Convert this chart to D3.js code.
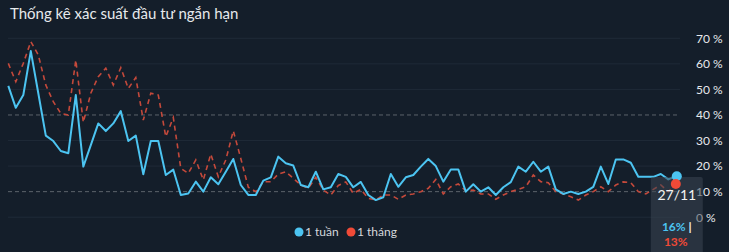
<!DOCTYPE html>
<html>
<head>
<meta charset="utf-8">
<script src="https://cdn.jsdelivr.net/npm/d3@7"></script>
<style>
  html, body { margin: 0; padding: 0; background: #141e2a; }
  svg { display: block; font-family: Lato, "Open Sans", sans-serif; }
</style>
</head>
<body>
<div id="chart"></div>
<script>
// Daily values, 90 days ending 27/11 (percent)
const weekValues = [51.4, 42.8, 47.8, 65, 48.5, 31.9, 29.8, 25.9, 25, 47.8,
    19.8, 28.2, 36.7, 33.7, 36.7, 41.5, 29.8, 31.9, 16.8, 29.8,
    29.8, 16.5, 18.6, 8.7, 9.3, 13.9, 10, 15.6, 12.9, 17.8,
    22.8, 12.6, 8.7, 8.7, 14.3, 15.6, 23.7, 21.1, 20.2, 12.6,
    11.7, 17.8, 10.9, 11.7, 16.9, 15.8, 11.7, 13.8, 8.7, 6.7,
    7.8, 16.9, 11.9, 15.6, 16.5, 19.8, 22.8, 20, 13.9, 18.7,
    18.7, 10, 12.9, 10, 11.7, 8.7, 11.7, 13.7, 19.8, 17.8,
    21.7, 17.8, 19.8, 10.9, 9.1, 10, 9.1, 10, 11.9, 19.8,
    13, 22.6, 22.6, 21.3, 15.8, 15.8, 15.8, 16.9, 14.8, 16];
const monthValues = [60.2, 53, 60.2, 68.7, 63.5, 51.7, 45.2, 40.6, 40, 61.5,
    37.1, 48.5, 55, 58.3, 51.7, 58.5, 50.4, 54.6, 38, 48.5,
    47.8, 31.5, 39, 19.1, 17.2, 22.4, 14.6, 24.7, 15.8, 22.4,
    33.8, 23, 11.7, 10, 13.9, 13.9, 16.9, 17.8, 15.2, 12.6,
    11.3, 15.6, 10.6, 8.7, 12.4, 13.8, 9.3, 10.9, 7.4, 6.7,
    8.7, 8.7, 7, 8.7, 9.1, 10, 11.3, 14.8, 9.1, 11.9,
    13, 10.3, 10.6, 9.1, 9.1, 7, 8.7, 10, 10.9, 11.9,
    16.5, 13.9, 13.5, 10, 9.1, 8, 6.7, 8.7, 10, 11.9,
    10, 12.6, 13.8, 13.5, 10, 9.1, 10.9, 12.6, 10, 13];
const seriesNames = ['1 tuần', '1 tháng'];
const yTicks = [0, 10, 20, 30, 40, 50, 60, 70];
const dashedTicks = [10, 40];
const lastLabel = '27/11';

// Day labels, counted back from 27/11
const endDay = new Date(2023, 10, 27);
const days = d3.range(weekValues.length).map(i => d3.timeDay.offset(endDay, i - weekValues.length + 1));
const fmtDay = d3.timeFormat('%d/%m');

const width = 729, height = 252;
const blue = '#4cc4f1', red = '#f04a37', redLine = '#c4493b';

let svg = d3.select('#chart').append('svg')
    .attr('width', width)
    .attr('height', height);

svg.append('rect')
    .attr('width', width).attr('height', height)
    .attr('fill', '#141e2a');

// Title
svg.append('text')
    .attr('x', 10).attr('y', 19)
    .attr('fill', '#e6e9ec')
    .attr('font-size', 15)
    .text('Thống kê xác suất đầu tư ngắn hạn');

// Scales
let xScale = d3.scalePoint()
    .domain(days.map(fmtDay))
    .range([8.3, 675.8]);

let yScale = d3.scaleLinear()
    .domain([0, 70])
    .range([217.2, 38.3]);

// Grid lines
let grid = svg.append('g').attr('id', 'grid');
grid.selectAll('line')
    .data(yTicks)
    .enter()
    .append('line')
    .attr('x1', 8).attr('x2', 680)
    .attr('y1', d => yScale(d)).attr('y2', d => yScale(d))
    .attr('stroke', d => dashedTicks.includes(d) ? '#5c636b' : '#1f2a37')
    .attr('stroke-width', 1)
    .attr('stroke-dasharray', d => dashedTicks.includes(d) ? '4,3' : null);

// Right axis labels
let yAxis = svg.append('g')
    .attr('transform', 'translate(690,0)')
    .call(d3.axisRight(yScale).tickValues(yTicks).tickSize(0).tickPadding(6).tickFormat(d => d + ' %'));
yAxis.select('.domain').remove();
yAxis.selectAll('text')
    .attr('fill', '#e6e9ec')
    .attr('font-size', 12)
    .attr('font-family', 'Lato, sans-serif');

// Lines
let line = (vals) => d3.line()
    .x((d, i) => xScale(fmtDay(days[i])))
    .y(d => yScale(d))(vals);

svg.append('path')
    .attr('d', line(monthValues))
    .attr('fill', 'none')
    .attr('stroke', redLine)
    .attr('stroke-width', 1.6)
    .attr('stroke-dasharray', '5,4');

svg.append('path')
    .attr('d', line(weekValues))
    .attr('fill', 'none')
    .attr('stroke', blue)
    .attr('stroke-width', 2)
    .attr('stroke-linejoin', 'round');

// Tooltip box for the last day
let lastIdx = weekValues.length - 1;
let lx = xScale(fmtDay(days[lastIdx]));
let tip = svg.append('g');
tip.append('rect')
    .attr('x', lx - 25).attr('y', 177)
    .attr('width', 52).attr('height', 80)
    .attr('rx', 2)
    .attr('fill', '#3a4552')
    .attr('fill-opacity', 0.55);
tip.append('text')
    .attr('x', lx + 1).attr('y', 200)
    .attr('text-anchor', 'middle')
    .attr('fill', '#f2f2f2')
    .attr('font-size', 14)
    .text(lastLabel);
let t2 = tip.append('text')
    .attr('x', lx + 1).attr('y', 231)
    .attr('text-anchor', 'middle')
    .attr('font-size', 12)
    .attr('font-weight', 'bold');
t2.append('tspan').attr('fill', blue).text(Math.round(weekValues[lastIdx]) + '%');
t2.append('tspan').attr('fill', '#f2f2f2').text(' |');
tip.append('text')
    .attr('x', lx).attr('y', 246)
    .attr('text-anchor', 'middle')
    .attr('font-size', 12)
    .attr('font-weight', 'bold')
    .attr('fill', red)
    .text(Math.round(monthValues[lastIdx]) + '%');

// Markers on the last point
svg.append('circle')
    .attr('cx', lx + 1).attr('cy', yScale(weekValues[lastIdx]))
    .attr('r', 5).attr('fill', blue);
svg.append('circle')
    .attr('cx', lx).attr('cy', yScale(monthValues[lastIdx]))
    .attr('r', 5).attr('fill', red);

// Legend
let legend = svg.append('g').attr('transform', 'translate(299,232)');
let items = [{ name: seriesNames[0], color: blue, x: 0 }, { name: seriesNames[1], color: red, x: 52 }];
items.forEach(it => {
    legend.append('circle').attr('cx', it.x).attr('cy', 0).attr('r', 4.5).attr('fill', it.color);
    legend.append('text')
        .attr('x', it.x + 6).attr('y', 4)
        .attr('fill', '#d5d8dc')
        .attr('font-size', 12)
        .text(it.name);
});
</script>
</body>
</html>
